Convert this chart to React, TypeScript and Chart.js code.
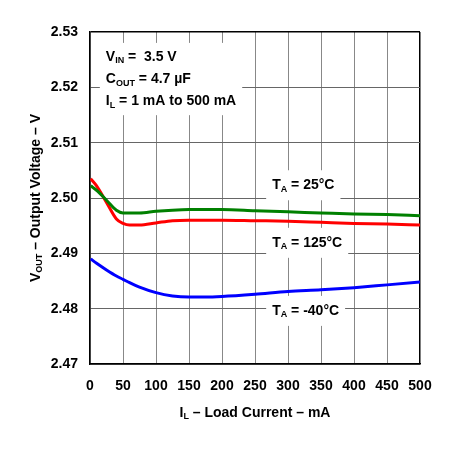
import { useRef, useEffect } from 'react';
import { Chart, registerables } from 'chart.js';

Chart.register(...registerables);

// load current (mA) and output voltage (V)
const loadCurrent = [1, 10, 25, 40, 50, 60, 75, 100, 125, 150, 175, 200, 250, 300, 350, 400, 450, 500];
const vout25 = [2.5022, 2.5014, 2.4996, 2.4978, 2.4973, 2.4973, 2.4973, 2.4976, 2.4978, 2.4979, 2.4979, 2.4979, 2.4977, 2.4975, 2.4973, 2.4971, 2.4970, 2.4968];
const vout125 = [2.5035, 2.5022, 2.4992, 2.4962, 2.4954, 2.4951, 2.4951, 2.4955, 2.4959, 2.4960, 2.4960, 2.4960, 2.4959, 2.4958, 2.4956, 2.4954, 2.4953, 2.4951];
const voutM40 = [2.4890, 2.4882, 2.4870, 2.4859, 2.4853, 2.4847, 2.4839, 2.4829, 2.4823, 2.4821, 2.4821, 2.4822, 2.4826, 2.4831, 2.4834, 2.4838, 2.4843, 2.4848];

// text pieces: [text, isSubscript]
type Piece = [string, boolean];
const conditionLines: Piece[][] = [
  [['V', false], ['IN', true], [' =  3.5 V', false]],
  [['C', false], ['OUT', true], [' = 4.7 µF', false]],
  [['I', false], ['L', true], [' = 1 mA to 500 mA', false]],
];
const tempLabels: Piece[][] = [
  [['T', false], ['A', true], [' = 25°C', false]],
  [['T', false], ['A', true], [' = 125°C', false]],
  [['T', false], ['A', true], [' = -40°C', false]],
];
// anchor of each temperature label in data units (mA, V)
const tempLabelAt = [[276, 2.5023], [276, 2.4919], [276, 2.4796]];
const conditionAt = [24, 2.5255, 2.5175];
const xTitle: Piece[] = [['I', false], ['L', true], [' – Load Current – mA', false]];
const yTitle: Piece[] = [['V', false], ['OUT', true], [' – Output Voltage – V', false]];

const FAMILY = '"Liberation Sans", Arial, Helvetica, sans-serif';
const MAIN = `bold 14px ${FAMILY}`;
const SUB = `bold 9px ${FAMILY}`;

function widthOf(ctx: CanvasRenderingContext2D, parts: Piece[]) {
  let w = 0;
  for (const [t, sub] of parts) {
    ctx.font = sub ? SUB : MAIN;
    w += ctx.measureText(t).width;
  }
  return w;
}

function drawPieces(ctx: CanvasRenderingContext2D, parts: Piece[], x: number, y: number) {
  let cx = x;
  ctx.textAlign = 'left';
  ctx.textBaseline = 'middle';
  ctx.fillStyle = '#000';
  for (const [t, sub] of parts) {
    ctx.font = sub ? SUB : MAIN;
    ctx.fillText(t, cx, sub ? y + 4 : y);
    cx += ctx.measureText(t).width;
  }
}

const labelsPlugin = {
  id: 'labels',
  beforeDatasetsDraw(chart: any) {
    const { ctx, scales } = chart;
    const xs = scales.x, ys = scales.y;
    ctx.save();
    // conditions box
    const cx = xs.getPixelForValue(conditionAt[0]);
    const top = ys.getPixelForValue(conditionAt[1]);
    const bottom = ys.getPixelForValue(conditionAt[2]);
    const maxW = Math.max(...conditionLines.map((l) => widthOf(ctx, l)));
    ctx.fillStyle = '#fff';
    ctx.fillRect(cx - 6, top - 14, maxW + 12, bottom - top + 28);
    conditionLines.forEach((l, i) => {
      drawPieces(ctx, l, cx, top + ((bottom - top) / (conditionLines.length - 1)) * i);
    });
    // temperature labels
    tempLabels.forEach((l, i) => {
      const px = xs.getPixelForValue(tempLabelAt[i][0]);
      const py = ys.getPixelForValue(tempLabelAt[i][1]);
      const w = widthOf(ctx, l);
      ctx.fillStyle = '#fff';
      ctx.fillRect(px - 6, py - 15, w + 12, 30);
      drawPieces(ctx, l, px, py);
    });
    ctx.restore();
  },
  afterDraw(chart: any) {
    const { ctx, chartArea } = chart;
    ctx.save();
    // x title
    const wx = widthOf(ctx, xTitle);
    drawPieces(ctx, xTitle, (chartArea.left + chartArea.right) / 2 - wx / 2, chartArea.bottom + 49);
    // y title
    const wy = widthOf(ctx, yTitle);
    ctx.translate(36, (chartArea.top + chartArea.bottom) / 2);
    ctx.rotate(-Math.PI / 2);
    drawPieces(ctx, yTitle, -wy / 2, 0);
    ctx.restore();
  },
};

export default function App() {
  const canvasRef = useRef<HTMLCanvasElement>(null);

  useEffect(() => {
    document.body.style.margin = '0';
    if (!canvasRef.current) return;
    const line = (data: number[], color: string) => ({
      data: loadCurrent.map((x, i) => ({ x, y: data[i] })),
      borderColor: color,
      borderWidth: 3,
      pointRadius: 0,
      fill: false,
      cubicInterpolationMode: 'monotone' as const,
    });
    const chart = new Chart(canvasRef.current, {
      type: 'line',
      data: {
        datasets: [
          line(vout25, '#008000'),
          line(vout125, '#ff0000'),
          line(voutM40, '#0000ff'),
        ],
      },
      options: {
        animation: false,
        responsive: true,
        maintainAspectRatio: false,
        layout: { padding: { top: 32, right: 35, left: 0, bottom: 0 } },
        plugins: { legend: { display: false }, tooltip: { enabled: false } },
        scales: {
          x: {
            type: 'linear',
            min: 0,
            max: 500,
            afterFit: (s: any) => { s.height = 87; },
            ticks: {
              stepSize: 50,
              padding: 14,
              color: '#000',
              maxRotation: 0,
              font: { family: FAMILY, size: 14, weight: 'bold' },
            },
            grid: {
              drawTicks: false,
              color: (c: any) => (c.tick && c.tick.value === 500 ? '#000' : '#888'),
              lineWidth: (c: any) => (c.tick && c.tick.value === 500 ? 1.5 : 1),
            },
            border: { color: '#000', width: 1.5 },
          },
          y: {
            min: 2.47,
            max: 2.53,
            afterFit: (s: any) => { s.width = 90; },
            ticks: {
              stepSize: 0.01,
              padding: 12,
              color: '#000',
              font: { family: FAMILY, size: 14, weight: 'bold' },
              callback: (v: any) => Number(v).toFixed(2),
            },
            grid: {
              drawTicks: false,
              color: (c: any) => (c.tick && Math.abs(c.tick.value - 2.53) < 1e-6 ? '#000' : '#666'),
              lineWidth: (c: any) => (c.tick && Math.abs(c.tick.value - 2.53) < 1e-6 ? 1.5 : 1),
            },
            border: { color: '#000', width: 1.5 },
          },
        },
      },
      plugins: [labelsPlugin],
    } as any);
    return () => { chart.destroy(); };
  }, []);

  return (<div style={{ width: 455, height: 451, position: 'relative' }}><canvas ref={canvasRef} /></div>);
}
